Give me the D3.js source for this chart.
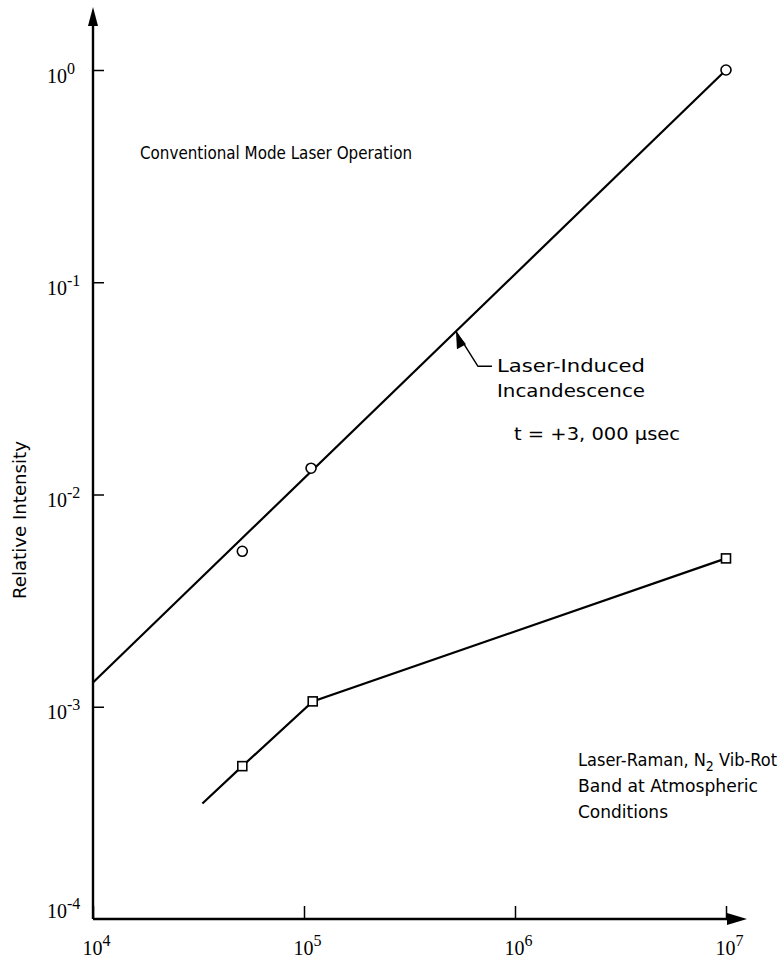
<!DOCTYPE html>
<html>
<head>
<meta charset="utf-8">
<script src="https://cdn.jsdelivr.net/npm/d3@7"></script>
<style>
  html, body { margin: 0; padding: 0; background: #fff; }
  svg { display: block; }
  .lbl { font-family: "Liberation Sans Narrow", "DejaVu Sans Condensed", "DejaVu Sans", sans-serif; font-stretch: condensed; fill: #000; }
  .tk { font-family: "Liberation Serif", "DejaVu Serif", serif; fill: #000; }
</style>
</head>
<body>
<svg id="chart" width="782" height="962"></svg>
<script>
// Decade tick values on both axes
const xTicks = [1e4, 1e5, 1e6, 1e7];
const xTickExp = ["4", "5", "6", "7"];
const yTicks = [1, 1e-1, 1e-2, 1e-3, 1e-4];
const yTickExp = ["0", "-1", "-2", "-3", "-4"];

// Laser-induced incandescence: measured points and fitted line
const incX = [5.1e4, 1.08e5, 1e7];
const incY = [5.4e-3, 1.33e-2, 1.0];
const incFitX = [1e4, 1e7];
const incFitY = [1.3e-3, 1.0];

// Laser-Raman N2 vib-rot band: trace and measured points
const ramanLineX = [3.3e4, 5.1e4, 1.1e5, 1e7];
const ramanLineY = [3.5e-4, 5.25e-4, 1.06e-3, 5.0e-3];
const ramanPtX = [5.1e4, 1.1e5, 1e7];
const ramanPtY = [5.25e-4, 1.06e-3, 5.0e-3];

const svg = d3.select("#chart");

const x = d3.scaleLog().domain([1e4, 1e7]).range([93, 726]);
const y = d3.scaleLog().domain([1e-4, 1]).range([919, 70]);

const x0 = x.range()[0], y0 = y.range()[0];

// Axis lines, extended past the last decade and capped with arrowheads
svg.append("line").attr("x1", x0).attr("x2", 738).attr("y1", y0).attr("y2", y0)
  .attr("stroke", "#000").attr("stroke-width", 2.4);
svg.append("line").attr("x1", x0).attr("x2", x0).attr("y1", y0).attr("y2", 20)
  .attr("stroke", "#000").attr("stroke-width", 2.4);
svg.append("path").attr("d", `M${x0},7 L${x0 - 5},26 L${x0 + 5},26 Z`).attr("fill", "#000");
svg.append("path").attr("d", `M747,${y0} L727,${y0 - 6} L727,${y0 + 6} Z`).attr("fill", "#000");

// X axis ticks (pointing up into the plot) with power-of-ten labels
const gx = svg.append("g").attr("transform", `translate(0,${y0})`)
  .call(d3.axisBottom(x).tickValues(xTicks).tickSizeInner(-13).tickSizeOuter(0).tickFormat(() => ""));
gx.select(".domain").remove();
gx.selectAll(".tick line").attr("stroke", "#000").attr("stroke-width", 1.5);
gx.selectAll(".tick text").remove();
gx.selectAll(".tick").each(function (d, i) {
  const t = d3.select(this).append("text").attr("class", "tk")
    .attr("x", 3).attr("y", 36).attr("text-anchor", "middle").attr("font-size", 20);
  t.append("tspan").text("10");
  t.append("tspan").attr("dy", -9).attr("font-size", 16).text(xTickExp[i]);
});

// Y axis ticks (pointing right into the plot) with power-of-ten labels
const gy = svg.append("g").attr("transform", `translate(${x0},0)`)
  .call(d3.axisLeft(y).tickValues(yTicks).tickSizeInner(-11).tickSizeOuter(0).tickFormat(() => ""));
gy.select(".domain").remove();
gy.selectAll(".tick line").attr("stroke", "#000").attr("stroke-width", 1.5)
  .filter(d => d === 1e-4).remove();
gy.selectAll(".tick text").remove();
gy.selectAll(".tick").each(function (d, i) {
  const t = d3.select(this).append("text").attr("class", "tk")
    .attr("x", -46).attr("y", d === 1e-4 ? -2 : 12).attr("text-anchor", "start").attr("font-size", 20);
  t.append("tspan").text("10");
  t.append("tspan").attr("dy", -9).attr("font-size", 16).text(yTickExp[i]);
});

// Y axis title
svg.append("text").attr("class", "lbl")
  .attr("transform", "translate(26,520) rotate(-90)")
  .attr("text-anchor", "middle").attr("font-size", 17)
  .attr("textLength", 158).attr("lengthAdjust", "spacingAndGlyphs")
  .text("Relative Intensity");

const line = d3.line().x(d => x(d[0])).y(d => y(d[1]));

// Incandescence fit line
svg.append("path").datum(d3.zip(incFitX, incFitY)).attr("d", line)
  .attr("fill", "none").attr("stroke", "#000").attr("stroke-width", 2.2);

// Raman trace
svg.append("path").datum(d3.zip(ramanLineX, ramanLineY)).attr("d", line)
  .attr("fill", "none").attr("stroke", "#000").attr("stroke-width", 2.2);

// Incandescence points (open circles)
svg.selectAll("circle.inc").data(d3.zip(incX, incY)).join("circle")
  .attr("class", "inc").attr("cx", d => x(d[0])).attr("cy", d => y(d[1])).attr("r", 5)
  .attr("fill", "#fff").attr("stroke", "#000").attr("stroke-width", 1.6);

// Raman points (open squares)
svg.selectAll("rect.ram").data(d3.zip(ramanPtX, ramanPtY)).join("rect")
  .attr("class", "ram").attr("x", d => x(d[0]) - 4.5).attr("y", d => y(d[1]) - 4.5)
  .attr("width", 9).attr("height", 9)
  .attr("fill", "#fff").attr("stroke", "#000").attr("stroke-width", 1.6);

// Leader arrow pointing at the incandescence line
const tipX = 5.25e5;
const tipY = Math.pow(10, Math.log10(incFitY[0]) +
  (Math.log10(tipX) - Math.log10(incFitX[0])) *
  (Math.log10(incFitY[1]) - Math.log10(incFitY[0])) / (Math.log10(incFitX[1]) - Math.log10(incFitX[0])));
const tx = x(tipX), ty = y(tipY);
svg.append("path")
  .attr("d", `M${tx},${ty} L${tx + 22},${ty + 35} L${tx + 36},${ty + 35}`)
  .attr("fill", "none").attr("stroke", "#000").attr("stroke-width", 1.5);
svg.append("path")
  .attr("d", `M${tx},${ty} L${tx + 1},${ty + 18} L${tx + 10},${ty + 13} Z`)
  .attr("fill", "#000");

// Annotations
const notes = [
  { t: "Conventional Mode Laser Operation", x: 140, y: 159, w: 272 },
  { t: "Laser-Induced", x: 497, y: 372, w: 148 },
  { t: "Incandescence", x: 497, y: 397, w: 148 },
  { t: "t = +3, 000 \u00b5sec", x: 514, y: 440, w: 166 },
  { t: "Band at Atmospheric", x: 578, y: 792, w: 180 },
  { t: "Conditions", x: 578, y: 818, w: 90 }
];
svg.selectAll("text.note").data(notes).join("text")
  .attr("class", "lbl note").attr("x", d => d.x).attr("y", d => d.y)
  .attr("font-size", 18).attr("textLength", d => d.w).attr("lengthAdjust", "spacingAndGlyphs")
  .text(d => d.t);

const raman = svg.append("text").attr("class", "lbl").attr("x", 578).attr("y", 766).attr("font-size", 18);
raman.append("tspan").text("Laser-Raman,  N");
raman.append("tspan").attr("dy", 5).attr("font-size", 14).text("2");
raman.append("tspan").attr("dy", -5).text(" Vib-Rot");
</script>
</body>
</html>
